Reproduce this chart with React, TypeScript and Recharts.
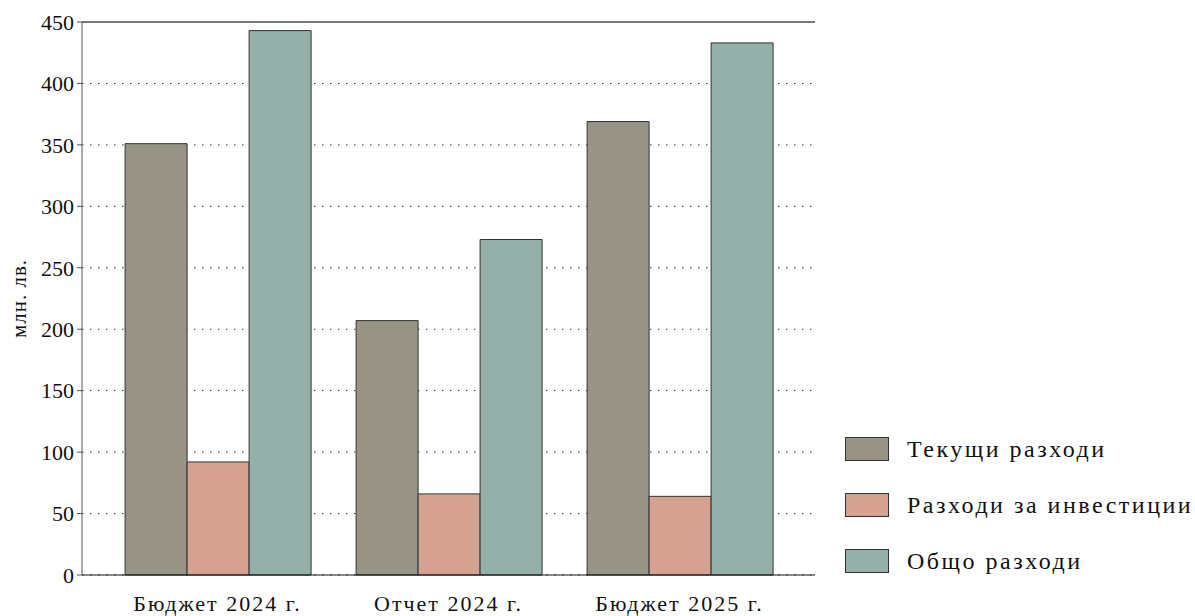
import React from "react";
import {
  BarChart,
  Bar,
  XAxis,
  YAxis,
  CartesianGrid,
  ReferenceLine,
} from "recharts";

const categories = ["Бюджет 2024 г.", "Отчет 2024 г.", "Бюджет 2025 г."];
const currentSpending = [351, 207, 369];
const investmentSpending = [92, 66, 64];
const totalSpending = [443, 273, 433];
const yTicks = [0, 50, 100, 150, 200, 250, 300, 350, 400, 450];

const seriesNames = ["Текущи разходи", "Разходи за инвестиции", "Общо разходи"];
const seriesColors = ["#979385", "#d5a190", "#95b0a8"];

const data = categories.map((c, i) => ({
  name: c,
  current: currentSpending[i],
  invest: investmentSpending[i],
  total: totalSpending[i],
}));

const FONT = "'Liberation Serif', 'DejaVu Serif', serif";

const LegendBox = () => (
  <div
    style={{
      position: "absolute",
      left: 845,
      top: 421,
      width: 350,
      fontFamily: FONT,
    }}
  >
    {seriesNames.map((n, i) => (
      <div key={n} style={{ display: "flex", alignItems: "center", height: 56 }}>
        <div
          style={{
            width: 42,
            height: 22,
            background: seriesColors[i],
            border: "1px solid #333",
            marginRight: 18,
          }}
        />
        <span style={{ fontSize: 24, letterSpacing: 2.5, color: "#111" }}>{n}</span>
      </div>
    ))}
  </div>
);

export default function App() {
  return (
    <div style={{ position: "absolute", left: 0, top: 0, width: 1195, height: 616 }}>
      <BarChart
        width={1195}
        height={616}
        data={data}
        margin={{ top: 22, right: 380, bottom: 0, left: 0 }}
        barCategoryGap="10%"
        barGap={0}
      >
        <CartesianGrid
          horizontal
          vertical={false}
          stroke="#333"
          strokeDasharray="1.5 6.5"
        />
        <XAxis
          dataKey="name"
          height={41}
          padding={{ left: 20, right: 20 }}
          tickLine={false}
          axisLine={{ stroke: "#111" }}
          tick={{ fill: "#111", fontSize: 22, fontFamily: FONT, letterSpacing: 2 }}
          tickMargin={14}
        />
        <YAxis
          width={82}
          domain={[0, 450]}
          ticks={yTicks}
          interval={0}
          tickSize={5}
          tickLine={{ stroke: "#555" }}
          axisLine={{ stroke: "#555" }}
          tick={{ fill: "#111", fontSize: 22, fontFamily: FONT }}
          tickMargin={3}
          label={{
            value: "млн. лв.",
            angle: -90,
            position: "insideLeft",
            offset: 19,
            style: { fill: "#111", fontSize: 21, fontFamily: FONT, textAnchor: "middle", letterSpacing: 1 },
          }}
        />
        <YAxis
          yAxisId="right"
          orientation="right"
          width={0}
          domain={[0, 450]}
          tick={false}
          tickLine={false}
          axisLine={{ stroke: "#666" }}
        />
        <ReferenceLine y={450} stroke="#777" strokeWidth={2} />
        <Bar dataKey="current" name={seriesNames[0]} fill={seriesColors[0]} stroke="#333" strokeWidth={1} isAnimationActive={false} />
        <Bar dataKey="invest" name={seriesNames[1]} fill={seriesColors[1]} stroke="#333" strokeWidth={1} isAnimationActive={false} />
        <Bar dataKey="total" name={seriesNames[2]} fill={seriesColors[2]} stroke="#333" strokeWidth={1} isAnimationActive={false} />
      </BarChart>
      <LegendBox />
    </div>
  );
}
